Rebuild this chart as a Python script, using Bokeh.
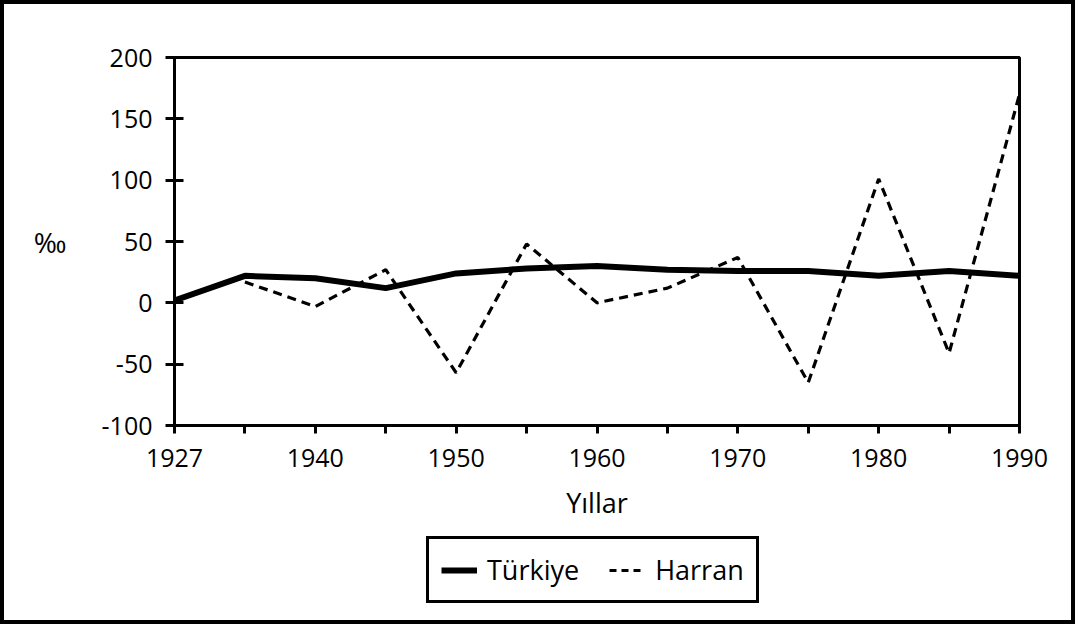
from bokeh.plotting import figure
from bokeh.layouts import column
from bokeh.models import Range1d, FixedTicker, Legend, LegendItem
from bokeh.embed import file_html
from bokeh.resources import INLINE

# ---- data ----
years = ["1927", "1935", "1940", "1945", "1950", "1955", "1960",
         "1965", "1970", "1975", "1980", "1985", "1990"]
turkiye = [2, 22, 20, 12, 24, 28, 30, 27, 26, 26, 22, 26, 22]
harran = [float("nan"), 17, -3, 27, -57, 48, 0, 12, 37, -65, 101, -41, 170]
y_ticks = [-100, -50, 0, 50, 100, 150, 200]
shown_years = ["1927", "1940", "1950", "1960", "1970", "1980", "1990"]
series_names = ["Türkiye", "Harran"]

FONT = "Open Sans"
x = list(range(len(years)))

p = figure(width=1067, height=530,
           x_range=Range1d(0, len(years) - 1), y_range=Range1d(-100, 200),
           output_backend="svg", toolbar_location=None,
           min_border_left=170, min_border_right=52,
           min_border_top=53, min_border_bottom=109)
p.background_fill_color = "white"
p.border_fill_color = "white"
p.outline_line_color = "black"
p.outline_line_width = 3
p.xgrid.visible = False
p.ygrid.visible = False

p.line(x, turkiye, line_color="black", line_width=6)
p.line(x, harran, line_color="black", line_width=3.2, line_dash="9 6")

# y axis
ya = p.yaxis[0]
ya.ticker = FixedTicker(ticks=y_ticks)
ya.major_label_overrides = {v: str(v) for v in y_ticks}
ya.major_tick_in = 9
ya.major_tick_out = 9
ya.minor_tick_line_color = None
ya.axis_line_width = 3
ya.major_tick_line_width = 3
ya.major_label_text_font = FONT
ya.major_label_text_font_size = "25px"
ya.major_label_text_color = "black"
ya.major_label_standoff = 13
ya.axis_label = "‰"
ya.axis_label_orientation = "horizontal"
ya.axis_label_text_font = FONT
ya.axis_label_text_font_size = "28px"
ya.axis_label_text_font_style = "normal"
ya.axis_label_text_color = "black"
ya.axis_label_standoff = 32

# x axis
xa = p.xaxis[0]
xa.ticker = FixedTicker(ticks=x)
xa.major_label_overrides = {i: (years[i] if years[i] in shown_years else "") for i in x}
xa.major_tick_in = 0
xa.major_tick_out = 8
xa.minor_tick_line_color = None
xa.axis_line_width = 3
xa.major_tick_line_width = 3
xa.major_label_text_font = FONT
xa.major_label_text_font_size = "25px"
xa.major_label_text_color = "black"
xa.major_label_standoff = 15
xa.axis_label = "Yıllar"
xa.axis_label_text_font = FONT
xa.axis_label_text_font_size = "27px"
xa.axis_label_text_font_style = "normal"
xa.axis_label_text_color = "black"
xa.axis_label_standoff = 14

# legend strip below the chart
q = figure(width=1067, height=86, x_range=Range1d(0, 1), y_range=Range1d(0, 1),
           x_axis_location=None, y_axis_location=None,
           output_backend="svg", toolbar_location=None, min_border=0)
q.xgrid.visible = False
q.ygrid.visible = False
q.outline_line_color = None
q.background_fill_color = "white"
q.border_fill_color = "white"
nan = float("nan")
k1 = q.line([nan], [nan], line_color="black", line_width=6)
k2 = q.line([nan], [nan], line_color="black", line_width=3, line_dash="7 5")

legend = Legend(items=[LegendItem(label=series_names[0], renderers=[k1]),
                       LegendItem(label=series_names[1], renderers=[k2])],
                orientation="horizontal", location=(252, 17))
legend.label_text_font = FONT
legend.label_text_font_size = "27px"
legend.label_text_color = "black"
legend.glyph_width = 36
legend.label_standoff = 10
legend.spacing = 30
legend.padding = 12
legend.margin = 0
legend.border_line_color = "black"
legend.border_line_alpha = 1
legend.border_line_width = 3
legend.background_fill_alpha = 1
q.add_layout(legend, "center")

layout = column(p, q, spacing=0, styles={"border": "4px solid black"})

open("out.html", "w").write(file_html(layout, INLINE))
